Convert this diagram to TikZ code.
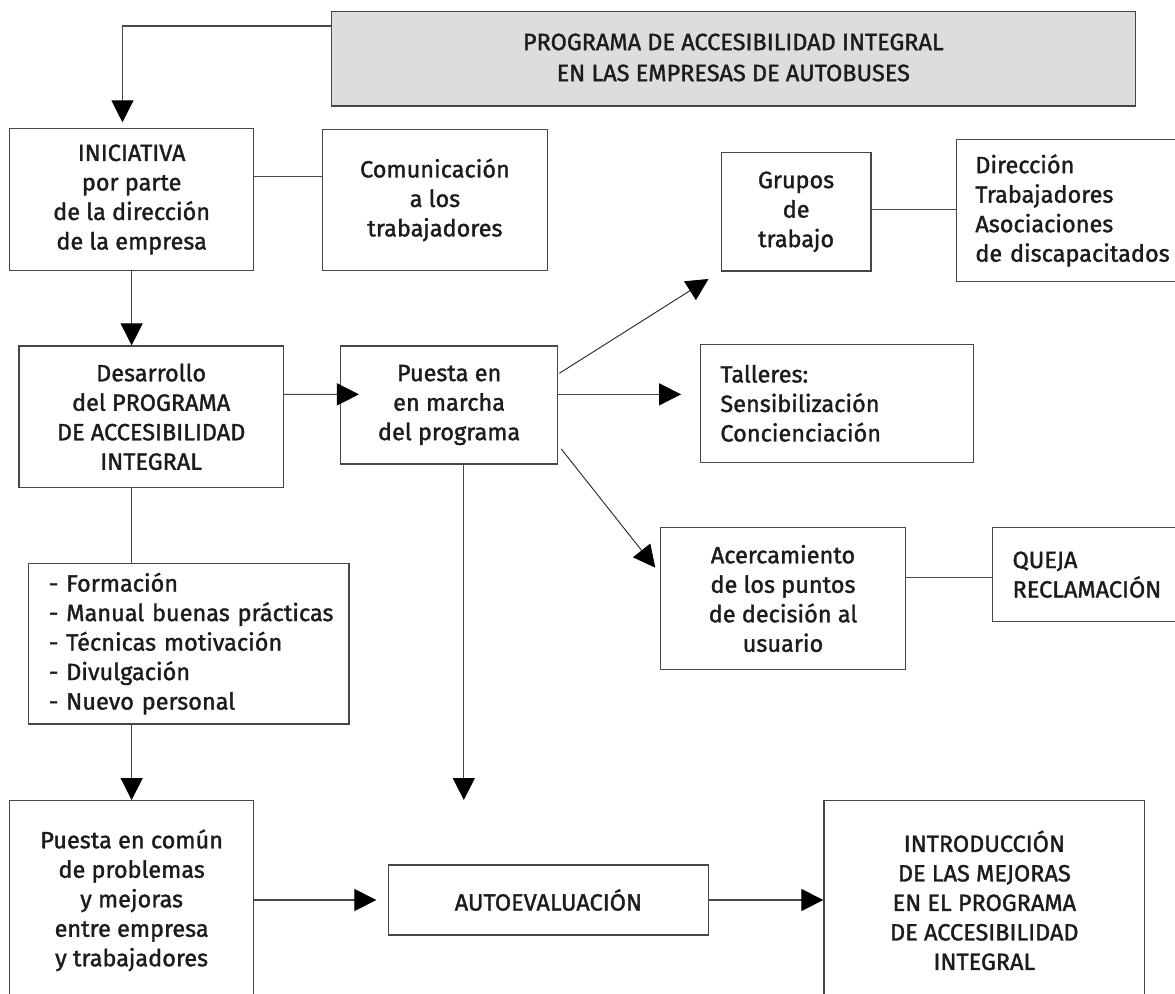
\documentclass[tikz,border=0pt]{standalone}
\usepackage{fontspec}
\setmainfont{Fira Sans}[FakeBold=1.4]
\usetikzlibrary{arrows.meta,calc}
\definecolor{titlegray}{RGB}{220,221,223}
\definecolor{ink}{RGB}{28,28,28}
\definecolor{edge}{RGB}{70,70,70}
\begin{document}
\begin{tikzpicture}[x=1pt,y=-1pt,
  box/.style={draw=edge,line width=1.3pt,inner sep=0pt,align=center,text=ink,
    font=\fontsize{23.5}{29.5}\selectfont},
  lbox/.style={box,align=left},
  conn/.style={draw=black!72,line width=1.2pt},
  thinconn/.style={draw=black!85,line width=0.9pt},
  arr/.style={-{Triangle[length=22pt,width=22pt,color=black]}}]
\useasboundingbox (0,0) rectangle (1175,993);
\fill[white] (0,0) rectangle (1175,993);
\clip (0,0) rectangle (1175,993);

% nodes
\node[box,fill=titlegray,minimum width=803.8,minimum height=94.3,
  font=\fontsize{23.5}{31}\selectfont] (title) at (733.3,58.85)
  {\raisebox{3pt}{PROGRAMA DE ACCESIBILIDAD INTEGRAL}\\\raisebox{3pt}{EN LAS EMPRESAS DE AUTOBUSES}};
\node[box,minimum width=244.1,minimum height=142.4] (inic) at (131.65,199.5)
  {INICIATIVA\\por parte\\de la dirección\\de la empresa};
\node[box,minimum width=224.7,minimum height=141.4] (comun) at (434.95,200)
  {Comunicación\\a los\\trabajadores};
\node[box,minimum width=264.1,minimum height=141.7] (desa) at (151.15,416.85)
  {Desarrollo\\del PROGRAMA\\DE ACCESIBILIDAD\\INTEGRAL};
\node[box,minimum width=217,minimum height=118] (puesta) at (449.1,405)
  {Puesta en\\en marcha\\del programa};
\node[lbox,text width=279.7,inner xsep=20.3,minimum height=160.7] (list) at (188.85,643.65)
  {\mbox{- Formación}\\\mbox{- Manual buenas prácticas}\\\mbox{- Técnicas motivación}\\\mbox{- Divulgación}\\\mbox{- Nuevo personal}};
\node[box,minimum width=244.1,minimum height=199.3] (comunp) at (131.65,900.35)
  {Puesta en común\\de problemas\\y mejoras\\entre empresa\\y trabajadores};
\node[box,minimum width=319.9,minimum height=70] (auto) at (548.35,900)
  {AUTOEVALUACIÓN};
\node[box,minimum width=320.7,minimum height=199.3] (intro) at (984.35,900.35)
  {INTRODUCCIÓN\\DE LAS MEJORAS\\EN EL PROGRAMA\\DE ACCESIBILIDAD\\INTEGRAL};
\node[box,minimum width=149.8,minimum height=118.3] (grupos) at (796.1,211.85)
  {Grupos\\de\\trabajo};
\node[lbox,anchor=west,minimum height=142.4,inner xsep=19,text width=200] (direc) at (955.7,210.5)
  {\mbox{Dirección}\\\mbox{Trabajadores}\\\mbox{Asociaciones}\\\mbox{de discapacitados}};
\node[lbox,minimum width=272.8,minimum height=118,inner xsep=19.7,text width=233.4] (talleres) at (837.1,403.3)
  {\mbox{Talleres:}\\\mbox{Sensibilización}\\\mbox{Concienciación}};
\node[box,minimum width=244.4,minimum height=141.6] (acerc) at (783,598.5)
  {Acercamiento\\de los puntos\\de decisión al\\usuario};
\node[lbox,anchor=west,minimum height=94,inner xsep=20.1,text width=175] (queja) at (991.8,574.7)
  {\mbox{QUEJA}\\\mbox{RECLAMACIÓN}};

% connectors
\draw[conn,arr] ($(title.north west)+(0,15)$) -| ($(inic.north)+(-9.2,-5.3)$);
\draw[conn] ($(inic.north east)+(0,49)$) -- ($(comun.north west)+(0,48)$);
\draw[conn,arr] (inic.south) -- (inic.south |- desa.north);
\draw[conn,arr] ($(desa.north east)+(0,49)$) -- ($(puesta.north west)+(19,49)$);
\draw[conn] (inic.south |- desa.south) -- (inic.south |- list.north);
\draw[conn,arr] (inic.south |- list.south) -- (comunp.north);
\draw[conn,arr] (comunp.east |- auto.west) -- ($(auto.west)+(-11.4,0)$);
\draw[conn,arr] (auto.east) -- (intro.west |- auto.east);
\coordinate (ptip) at (463.8,800);
\draw[conn,arr] (ptip |- puesta.south) -- (ptip);
\draw[thinconn,arr] ($(puesta.north east)+(1,28)$) -- ($(grupos.south west)+(-12,7.3)$);
\draw[conn,arr] ($(puesta.north east)+(0,49)$) -- ($(talleres.north west)+(-19,50.7)$);
\draw[thinconn,arr] ($(puesta.south east)+(3,-15.7)$) -- ($(acerc.north west)+(-4.9,40.6)$);
\draw[conn] ($(grupos.east)+(0,-2.5)$) coordinate (g1) -- (g1 -| direc.west);
\draw[conn] ($(acerc.east)+(0,-21.2)$) coordinate (a1) -- (a1 -| queja.west);
\end{tikzpicture}
\end{document}
